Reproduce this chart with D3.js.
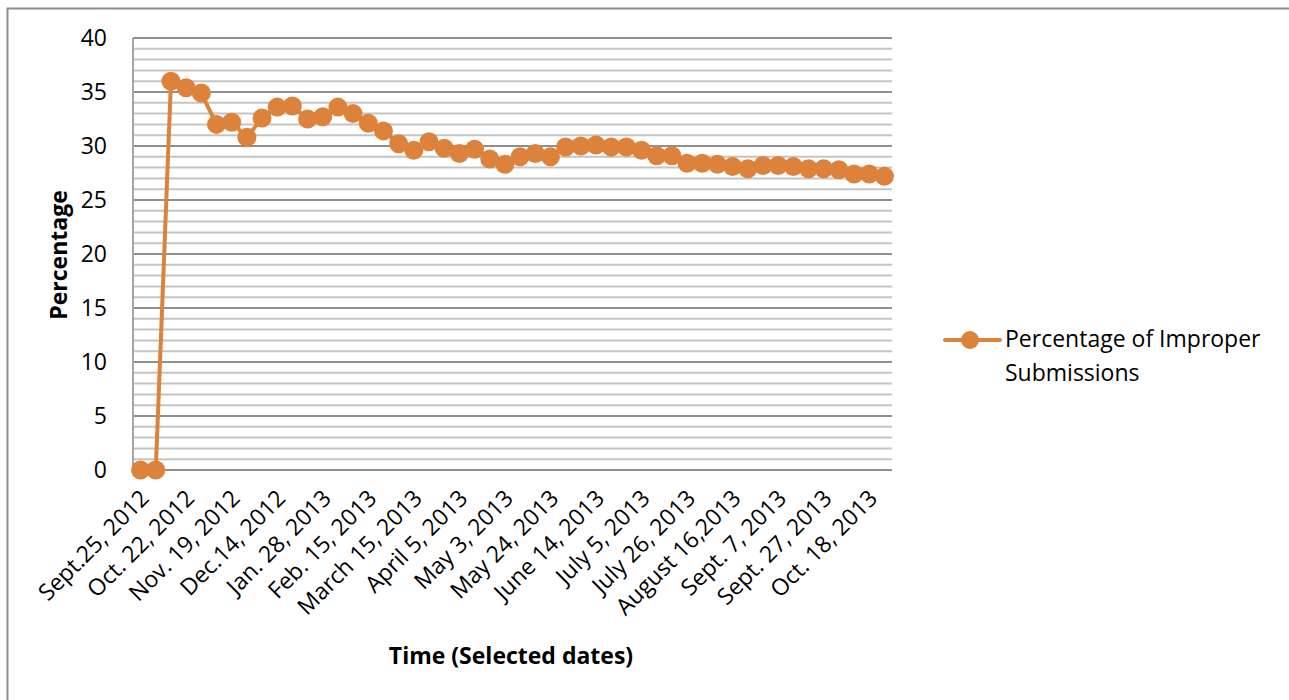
<!DOCTYPE html>
<html>
<head>
<meta charset="utf-8">
<title>Percentage of Improper Submissions</title>
<script src="https://d3js.org/d3.v7.min.js"></script>
<style>
    body { margin: 0; background: #fff; }
    svg text { font-family: "Open Sans", Lato, sans-serif; fill: #000; }
</style>
</head>
<body>
<script>
// values, one per sampled date (50 points)
const improperPct = [
    0, 0, 36.0, 35.4, 34.9, 32.0, 32.2, 30.8, 32.6, 33.6,
    33.7, 32.5, 32.7, 33.6, 33.0, 32.1, 31.4, 30.2, 29.6, 30.4,
    29.8, 29.3, 29.7, 28.8, 28.3, 29.0, 29.3, 29.0, 29.9, 30.0,
    30.1, 29.9, 29.9, 29.6, 29.1, 29.1, 28.4, 28.4, 28.3, 28.1,
    27.9, 28.2, 28.2, 28.1, 27.9, 27.9, 27.8, 27.4, 27.4, 27.2
];
// only every third date is labelled on the axis
const dateLabels = [
    "Sept.25, 2012", "Oct. 22, 2012", "Nov. 19, 2012", "Dec.14, 2012",
    "Jan. 28, 2013", "Feb. 15, 2013", "March 15, 2013", "April 5, 2013",
    "May 3, 2013", "May 24, 2013", "June 14, 2013", "July 5, 2013",
    "July 26, 2013", "August 16,2013", "Sept. 7, 2013", "Sept. 27, 2013",
    "Oct. 18, 2013"
];
const labelStep = 3;
const yTicks = [0, 5, 10, 15, 20, 25, 30, 35, 40];
const seriesName = ["Percentage of Improper", "Submissions"];

const W = 1289, H = 700;
const plot = { left: 133, right: 892, top: 38, bottom: 470 };
const orange = "#DD823B";
const fs = "23px";

const svg = d3.select("body").append("svg")
    .attr("width", W).attr("height", H);

// chart frame (runs off the page on the right and bottom)
svg.append("rect")
    .attr("x", 7.5).attr("y", 8.5)
    .attr("width", W + 20).attr("height", H + 20)
    .attr("fill", "none").attr("stroke", "#8c8c8c").attr("stroke-width", 2);

const x = d3.scaleBand()
    .domain(d3.range(improperPct.length))
    .range([plot.left, plot.right]);

const y = d3.scaleLinear()
    .domain([0, 40])
    .range([plot.bottom, plot.top]);

// gridlines: minor every 1, major every 5
const grid = svg.append("g");
grid.selectAll("line.minor")
    .data(d3.range(1, 40).filter(v => v % 5 !== 0))
    .join("line")
    .attr("x1", plot.left).attr("x2", plot.right)
    .attr("y1", d => y(d)).attr("y2", d => y(d))
    .attr("stroke", "#c4c4c4").attr("stroke-width", 2);
grid.selectAll("line.major")
    .data(yTicks.filter(v => v > 0))
    .join("line")
    .attr("x1", plot.left).attr("x2", plot.right)
    .attr("y1", d => y(d)).attr("y2", d => y(d))
    .attr("stroke", "#8f8f8f").attr("stroke-width", 2);

// axes lines
svg.append("line")
    .attr("x1", plot.left).attr("x2", plot.left)
    .attr("y1", plot.top).attr("y2", plot.bottom)
    .attr("stroke", "#a6a6a6").attr("stroke-width", 2);
svg.append("line")
    .attr("x1", plot.left).attr("x2", plot.right)
    .attr("y1", y(0)).attr("y2", y(0))
    .attr("stroke", "#8f8f8f").attr("stroke-width", 2);

// y axis labels
svg.append("g").selectAll("text")
    .data(yTicks)
    .join("text")
    .attr("x", 107).attr("y", d => y(d))
    .attr("dy", "0.35em")
    .attr("text-anchor", "end")
    .style("font-size", fs)
    .text(d => d);

// x axis labels, rotated
svg.append("g").selectAll("text")
    .data(dateLabels)
    .join("text")
    .attr("transform", (d, i) => {
        const cx = x(i * labelStep) + x.bandwidth() / 2;
        return `translate(${cx + 4},${plot.bottom + 24}) rotate(-45)`;
    })
    .attr("text-anchor", "end")
    .attr("dy", "0.35em")
    .style("font-size", fs)
    .text(d => d);

// axis titles
svg.append("text")
    .attr("transform", `translate(67,${(plot.top + plot.bottom) / 2 + 1}) rotate(-90)`)
    .attr("text-anchor", "middle")
    .style("font-size", fs).style("font-weight", "bold")
    .text("Percentage");
svg.append("text")
    .attr("x", 511).attr("y", 664)
    .attr("text-anchor", "middle")
    .style("font-size", fs).style("font-weight", "bold")
    .text("Time (Selected dates)");

// series
const line = d3.line()
    .x((d, i) => x(i) + x.bandwidth() / 2)
    .y(d => y(d));
svg.append("path")
    .datum(improperPct)
    .attr("d", line)
    .attr("fill", "none")
    .attr("stroke", orange).attr("stroke-width", 4)
    .attr("stroke-linejoin", "round");
svg.append("g").selectAll("circle")
    .data(improperPct)
    .join("circle")
    .attr("cx", (d, i) => x(i) + x.bandwidth() / 2)
    .attr("cy", d => y(d))
    .attr("r", 9.5)
    .attr("fill", orange);

// legend
const lg = svg.append("g").attr("transform", "translate(945,340)");
lg.append("line")
    .attr("x1", 0).attr("x2", 55)
    .attr("stroke", orange).attr("stroke-width", 4).attr("stroke-linecap", "round");
lg.append("circle").attr("cx", 25).attr("r", 9).attr("fill", orange);
lg.selectAll("text")
    .data(seriesName)
    .join("text")
    .attr("x", 60).attr("y", (d, i) => 7 + i * 34)
    .style("font-size", fs)
    .text(d => d);
</script>
</body>
</html>
